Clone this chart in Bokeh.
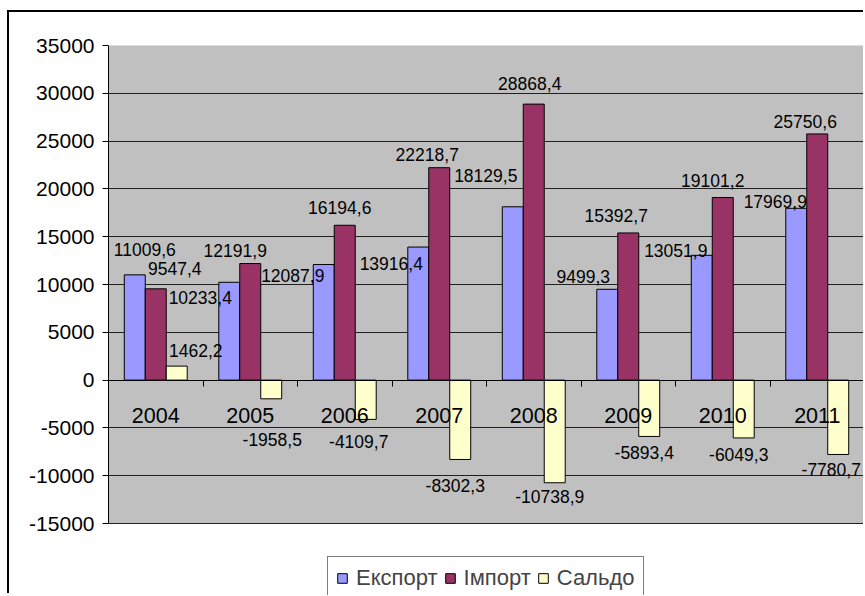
from bokeh.plotting import figure
from bokeh.models import (ColumnDataSource, Range1d, LinearAxis, FixedTicker,
                          Legend, LegendItem, BoxAnnotation)
from bokeh.transform import dodge
from bokeh.core.properties import value
from bokeh.embed import file_html
from bokeh.resources import INLINE

# ---- data ----
years = ["2004", "2005", "2006", "2007", "2008", "2009", "2010", "2011"]
export = [11009.6, 10233.4, 12087.9, 13916.4, 18129.5, 9499.3, 13051.9, 17969.9]
imports = [9547.4, 12191.9, 16194.6, 22218.7, 28868.4, 15392.7, 19101.2, 25750.6]
saldo = [1462.2, -1958.5, -4109.7, -8302.3, -10738.9, -5893.4, -6049.3, -7780.7]
series_names = ["Експорт", "Імпорт", "Сальдо"]
y_ticks = [-15000, -10000, -5000, 0, 5000, 10000, 15000, 20000, 25000, 30000, 35000]

# label nudges in screen pixels (style only)
ex_dx = [10, -29, -31, -27, -27, -24, -26, -21]
ex_dy = [-25, 15, 11, 16, -31, -13, -5, -7]
im_dx = [19, -15, -5, -12, -4, -12, -10, -12]
im_dy = [-20, -13, -18, -13, -21, -17, -17, -12]
sa_dx = [19, 1, -7, -5, -5, -5, -5, -7]
sa_dy = [-16, 41, 22, 26, 14, 16, 17, 15]

FONT = "Liberation Sans"
BW = 0.222

# layout (pixels)
W, H = 856, 583
TOP, LEFT = 33, 99
AREA_PX = 478                      # height of the grey plot area
frame_px = H - TOP                 # frame runs to the bottom so the legend fits
y_lo = y_ticks[-1] - (y_ticks[-1] - y_ticks[0]) * frame_px / AREA_PX


def fmt(v):
    return f"{v:.1f}".replace(".", ",")


centers = [i + 0.5 for i in range(len(years))]
src = ColumnDataSource(dict(
    x=centers, year=years, zero=[0] * len(years),
    export=export, imports=imports, saldo=saldo,
    ex_lbl=[fmt(v) for v in export], im_lbl=[fmt(v) for v in imports],
    sa_lbl=[fmt(v) for v in saldo],
    ex_dx=ex_dx, ex_dy=ex_dy, im_dx=im_dx, im_dy=im_dy, sa_dx=sa_dx, sa_dy=sa_dy,
))

p = figure(width=W, height=H, x_range=Range1d(0, len(years)),
           y_range=Range1d(y_lo, y_ticks[-1]),
           output_backend="svg", toolbar_location=None, x_axis_type=None,
           min_border_left=LEFT, min_border_top=TOP, min_border_bottom=0,
           min_border_right=1)
p.styles = {"margin-left": "7px", "margin-top": "10px",
            "border-top": "2px solid black", "border-left": "2px solid black"}
p.background_fill_color = "white"
p.border_fill_color = "white"
p.outline_line_color = None
p.xgrid.visible = False
p.ygrid.ticker = FixedTicker(ticks=y_ticks)
p.ygrid.grid_line_color = "#202020"

# grey plot area
p.add_layout(BoxAnnotation(left=0, right=len(years), bottom=y_ticks[0], top=y_ticks[-1],
                           fill_color="#C0C0C0", fill_alpha=1,
                           line_color="#808080", line_width=1, level="image"))

ya = p.yaxis[0]
ya.ticker = FixedTicker(ticks=y_ticks)
ya.bounds = (y_ticks[0], y_ticks[-1])
ya.major_label_overrides = {t: str(t) for t in y_ticks}
ya.major_label_text_font = FONT
ya.major_label_text_font_size = "21px"
ya.major_label_text_color = "black"
ya.major_tick_out = 6
ya.major_tick_in = 0
ya.minor_tick_line_color = None
ya.axis_line_color = "black"
ya.major_tick_line_color = "black"
ya.major_label_standoff = 8

r1 = p.vbar(x=dodge("x", -BW, range=p.x_range), top="export", bottom=0, width=BW,
            source=src, fill_color="#9999FF", line_color="black", line_width=1)
r2 = p.vbar(x="x", top="imports", bottom=0, width=BW,
            source=src, fill_color="#993366", line_color="black", line_width=1)
r3 = p.vbar(x=dodge("x", BW, range=p.x_range), top="saldo", bottom=0, width=BW,
            source=src, fill_color="#FFFFCC", line_color="black", line_width=1)

common = dict(source=src, text_align="center", text_baseline="middle",
              text_font=value(FONT), text_font_size="17.5px", text_color="black")
p.text(x=dodge("x", -BW, range=p.x_range), y="export", text="ex_lbl",
       x_offset="ex_dx", y_offset="ex_dy", **common)
p.text(x="x", y="imports", text="im_lbl", x_offset="im_dx", y_offset="im_dy", **common)
p.text(x=dodge("x", BW, range=p.x_range), y="saldo", text="sa_lbl",
       x_offset="sa_dx", y_offset="sa_dy", **common)

# category axis line with boundary ticks at y = 0
tick_ax = LinearAxis(ticker=FixedTicker(ticks=list(range(len(years) + 1))),
                     fixed_location=0, axis_line_color="black",
                     major_tick_in=6, major_tick_out=0,
                     major_tick_line_color="black", minor_tick_line_color=None,
                     major_label_text_font_size="1px", major_label_text_color=None,
                     major_label_standoff=0)
p.add_layout(tick_ax, "above")

# category labels, sitting below the crossing axis at y = 0
p.text(x="x", y="zero", text="year", source=src, y_offset=35,
       text_align="center", text_baseline="middle", text_font=value(FONT),
       text_font_size="21.5px", text_color="black", level="overlay")

legend = Legend(items=[LegendItem(label=series_names[0], renderers=[r1]),
                       LegendItem(label=series_names[1], renderers=[r2]),
                       LegendItem(label=series_names[2], renderers=[r3])],
                orientation="horizontal", location=(219, -5),
                label_text_font=FONT, label_text_font_size="22px",
                glyph_width=12, glyph_height=12, label_standoff=8, spacing=6,
                padding=8, margin=0, border_line_color="black",
                background_fill_color="white", background_fill_alpha=1)
p.add_layout(legend)

open("out.html", "w").write(file_html(p, INLINE))
